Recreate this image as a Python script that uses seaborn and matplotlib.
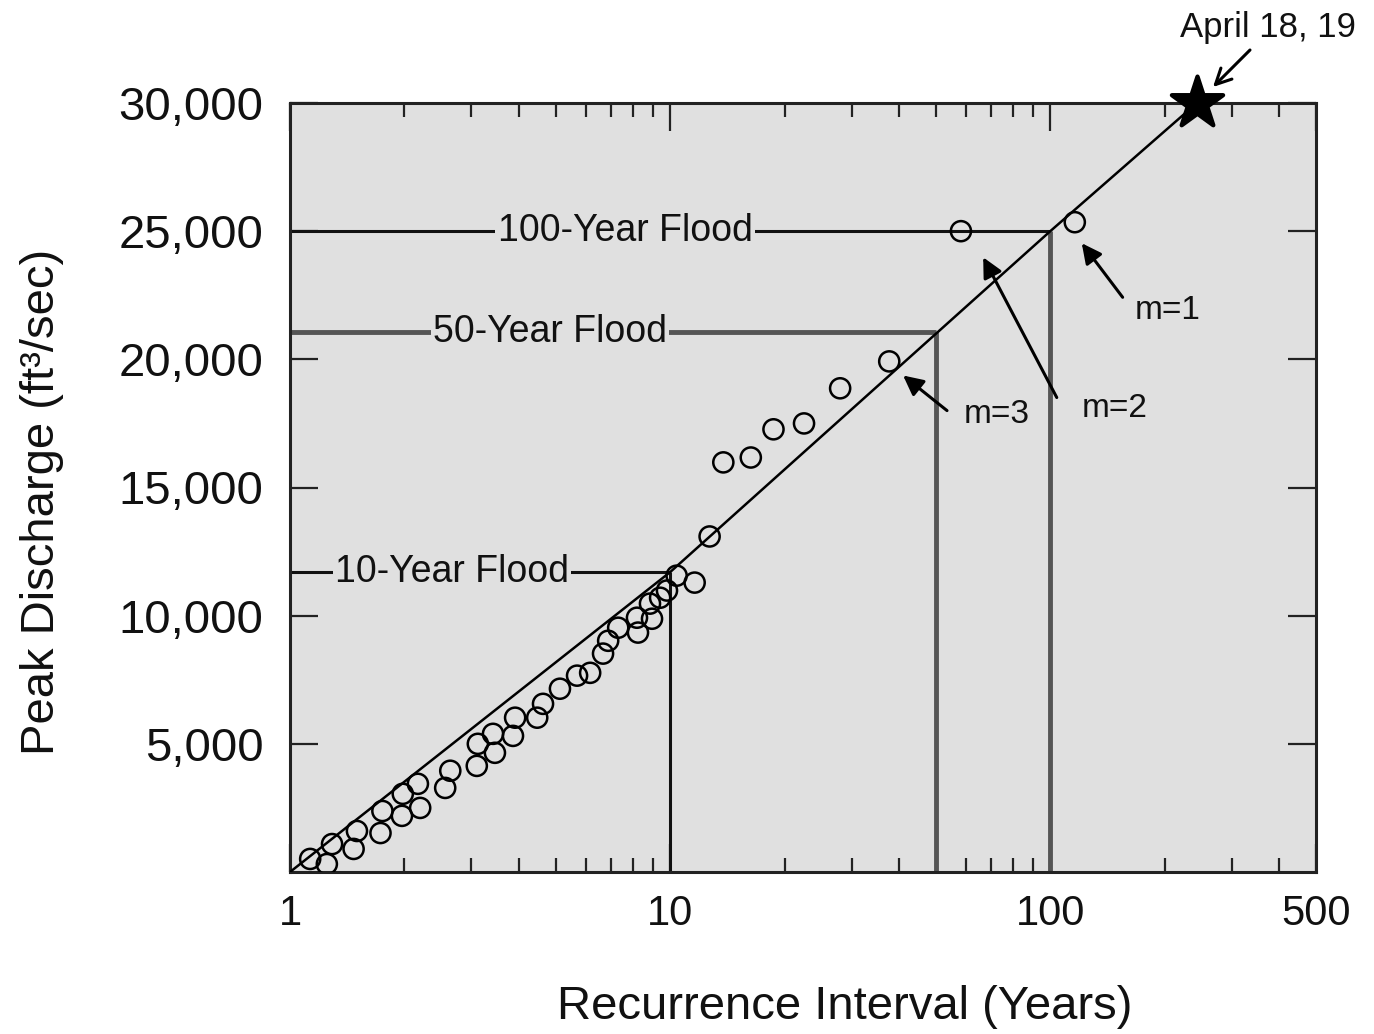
import matplotlib
matplotlib.use("Agg")
import matplotlib.pyplot as plt
import matplotlib.ticker as mticker
import seaborn as sns
import pandas as pd

# ---------------- data ----------------
# observed annual peaks: recurrence interval (years), peak discharge (ft3/s)
obs_T = [1.13, 1.25, 1.29, 1.47, 1.50, 1.73, 1.75, 1.97, 1.98, 2.20, 2.17,
         2.56, 2.64, 3.10, 3.12, 3.46, 3.42, 3.86, 3.91, 4.47, 4.63, 5.13,
         5.69, 6.16, 6.66, 6.87, 7.30, 8.23, 8.18, 8.85, 8.96, 9.41, 9.81,
         10.4, 11.6, 12.7, 13.8, 16.3, 18.7, 22.5, 28.0, 37.7, 58.2, 116.0]
obs_Q = [510, 310, 1090, 900, 1600, 1520, 2380, 2190, 3050, 2500, 3440,
         3280, 3950, 4140, 5000, 4650, 5390, 5310, 6020, 6020, 6560, 7150,
         7660, 7770, 8520, 9020, 9530, 9340, 9920, 10470, 9880, 10700, 10980,
         11560, 11290, 13090, 15980, 16170, 17270, 17500, 18870, 19920, 25000, 25350]

# fitted frequency line
fit_T = [1.0, 10.0, 100.0, 243.0]
fit_Q = [0, 11700, 25000, 30000]

# record flood (star)
star_T = [243.0]
star_Q = [30000]
star_label = "April 18, 19"

# design floods
flood_names = ["10-Year Flood", "50-Year Flood", "100-Year Flood"]
flood_T = [10.0, 50.0, 100.0]
flood_Q = [11700, 21050, 25000]
flood_label_T = [2.67, 4.83, 7.61]

# rank labels: text, arrow tip (T, Q), arrow tail (T, Q), text position (T, Q)
rank_labels = ["m=1", "m=2", "m=3"]
rank_tip_T = [121, 66.6, 41.0]
rank_tip_Q = [24530, 23980, 19370]
rank_tail_T = [155, 104, 53.5]
rank_tail_Q = [22420, 18510, 18000]
rank_text_T = [204, 148, 72.4]
rank_text_Q = [21910, 18080, 17850]

x_ticks = [1, 10, 100, 500]
x_tick_labels = ["1", "10", "100", "500"]
y_ticks = [5000, 10000, 15000, 20000, 25000, 30000]
y_tick_labels = ["5,000", "10,000", "15,000", "20,000", "25,000", "30,000"]

# ---------------- plotting ----------------
sns.set_theme(style="white")
plt.rcParams["font.family"] = ["Liberation Sans", "DejaVu Sans"]

W, H = 1374, 1034
fig = plt.figure(figsize=(W / 100, H / 100), dpi=100)
ax = fig.add_axes([290 / W, 1 - 872 / H, (1316 - 290) / W, (872 - 103) / H])
ax.set_facecolor("#e0e0e0")

ax.set_xscale("log")
ax.set_xlim(1, 500)
ax.set_ylim(0, 30000)

BG = "#e0e0e0"

# design flood reference lines
flood_colors = ["#111111", "#555555", "#111111"]
vert_colors = ["#111111", "#555555", "#555555"]
flood_lw = [2.2, 3.5, 2.2]
vert_lw = [2.2, 3.5, 3.5]
for name, T, Q, lt, c, vc, lw, vlw in zip(flood_names, flood_T, flood_Q, flood_label_T,
                                        flood_colors, vert_colors, flood_lw, vert_lw):
    ax.plot([1, T], [Q, Q], color=c, lw=lw, zorder=2, solid_capstyle="butt")
    ax.plot([T, T], [0, Q], color=vc, lw=vlw, zorder=2, solid_capstyle="butt")
    ax.text(lt, Q, name, ha="center", va="center", fontsize=27, color="#111111",
            zorder=3, bbox=dict(facecolor=BG, edgecolor="none", pad=1.5))

# fitted line
sns.lineplot(x=fit_T, y=fit_Q, sort=False, estimator=None, color="black",
             linewidth=1.8, ax=ax, zorder=4)

# observations
df = pd.DataFrame({"T": obs_T, "Q": obs_Q})
sns.scatterplot(data=df, x="T", y="Q", marker="o", s=210, facecolor="none",
                edgecolor="black", linewidth=1.8, ax=ax, zorder=5)

# star
sns.scatterplot(x=star_T, y=star_Q, marker="*", s=1500, color="black",
                edgecolor="black", ax=ax, zorder=6, clip_on=False)

# rank annotations
for lab, tt, tq, st, sq, xt, xq in zip(rank_labels, rank_tip_T, rank_tip_Q,
                                       rank_tail_T, rank_tail_Q, rank_text_T, rank_text_Q):
    ax.annotate("", xy=(tt, tq), xytext=(st, sq),
                arrowprops=dict(arrowstyle="-|>", color="black", lw=2.2,
                                mutation_scale=30, shrinkA=0, shrinkB=0), zorder=6)
    ax.text(xt, xq, lab, ha="center", va="center", fontsize=24, color="#111111", zorder=6)

# April label + arrow (outside the axes)
fig.text(1180 / W, 1 - 28 / H, star_label, ha="left", va="center", fontsize=25, color="#111111")
ax.annotate("", xy=(1213 / W, 1 - 87 / H), xytext=(1250 / W, 1 - 50 / H),
            xycoords="figure fraction", textcoords="figure fraction",
            arrowprops=dict(arrowstyle="->", color="black", lw=2.2,
                            mutation_scale=28, shrinkA=0, shrinkB=0),
            annotation_clip=False)

# ticks
ax.xaxis.set_major_locator(mticker.FixedLocator(x_ticks))
ax.xaxis.set_major_formatter(mticker.FixedFormatter(x_tick_labels))
ax.xaxis.set_minor_locator(mticker.LogLocator(base=10, subs=range(2, 10), numticks=20))
ax.xaxis.set_minor_formatter(mticker.NullFormatter())
ax.set_yticks(y_ticks)
ax.set_yticklabels(y_tick_labels)

ax.tick_params(axis="both", which="major", direction="in", top=True, right=True,
               bottom=True, left=True,
               length=20, width=1.6, color="#222222", labelcolor="#111111")
ax.tick_params(axis="x", which="minor", direction="in", top=True, bottom=True,
               length=10, width=1.6, color="#222222")
ax.tick_params(axis="x", which="major", pad=16, labelsize=30)
ax.tick_params(axis="y", which="major", pad=19, labelsize=34)
ax.tick_params(axis="y", which="minor", left=False, right=False)

for sp in ax.spines.values():
    sp.set_color("#222222")
    sp.set_linewidth(2.2)
    sp.set_visible(True)

ax.set_xlabel("Recurrence Interval (Years)", fontsize=34, color="#111111")
ax.set_ylabel("Peak Discharge (ft³/sec)", fontsize=34, color="#111111")
ax.yaxis.label.set_va("center")
ax.xaxis.set_label_coords((845 - 290) / 1026, (872 - 985) / 769)
ax.yaxis.set_label_coords((42 - 290) / 1026, (872 - 502) / 769)

fig.savefig("out.png", dpi=100, facecolor="white")
